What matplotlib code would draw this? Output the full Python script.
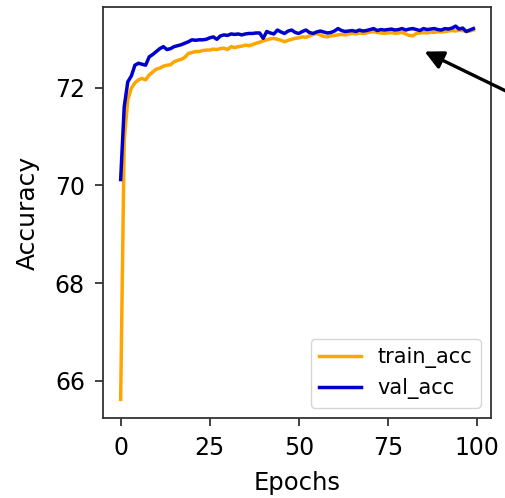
import numpy as np
import matplotlib
matplotlib.use("Agg")
import matplotlib.pyplot as plt

# per-epoch accuracy (%)
train_acc = [
    65.62, 70.93, 71.75, 71.99, 72.10, 72.16, 72.19, 72.16, 72.26, 72.32,
    72.38, 72.40, 72.44, 72.46, 72.47, 72.53, 72.56, 72.58, 72.62, 72.70,
    72.72, 72.74, 72.74, 72.76, 72.77, 72.77, 72.79, 72.78, 72.80, 72.81,
    72.78, 72.84, 72.82, 72.84, 72.85, 72.87, 72.86, 72.88, 72.91, 72.93,
    72.96, 72.98, 73.00, 73.01, 72.99, 72.97, 72.94, 72.97, 72.99, 73.01,
    73.02, 73.04, 73.03, 73.06, 73.09, 73.11, 73.08, 73.05, 73.04, 73.06,
    73.07, 73.08, 73.09, 73.08, 73.10, 73.11, 73.10, 73.12, 73.11, 73.12,
    73.14, 73.15, 73.13, 73.12, 73.11, 73.12, 73.13, 73.11, 73.12, 73.13,
    73.10, 73.07, 73.06, 73.11, 73.12, 73.13, 73.12, 73.14, 73.13, 73.15,
    73.14, 73.15, 73.16, 73.17, 73.16, 73.18, 73.17, 73.15, 73.16, 73.18,
]
val_acc = [
    70.12, 71.61, 72.12, 72.24, 72.46, 72.50, 72.48, 72.46, 72.63, 72.68,
    72.74, 72.80, 72.84, 72.78, 72.80, 72.84, 72.86, 72.88, 72.91, 72.94,
    72.98, 72.97, 72.98, 72.98, 72.99, 73.02, 73.04, 72.99, 73.06, 73.08,
    73.07, 73.10, 73.09, 73.10, 73.08, 73.10, 73.11, 73.11, 73.12, 73.12,
    73.01, 73.15, 73.12, 73.10, 73.18, 73.14, 73.11, 73.16, 73.18, 73.13,
    73.11, 73.15, 73.18, 73.13, 73.11, 73.14, 73.16, 73.14, 73.12, 73.13,
    73.16, 73.21, 73.17, 73.15, 73.16, 73.17, 73.15, 73.18, 73.16, 73.17,
    73.19, 73.21, 73.17, 73.19, 73.18, 73.19, 73.20, 73.18, 73.19, 73.21,
    73.18, 73.20, 73.21, 73.19, 73.17, 73.21, 73.19, 73.20, 73.21, 73.19,
    73.18, 73.21, 73.20, 73.22, 73.26, 73.20, 73.22, 73.15, 73.18, 73.21,
]
epochs = np.arange(len(train_acc))

fig = plt.figure(figsize=(5.06, 4.98), dpi=100)
ax = fig.add_axes([0.2036, 0.1606, 0.7668, 0.8244])

ax.plot(epochs, train_acc, color="orange", lw=2.5, label="train_acc")
ax.plot(epochs, val_acc, color="mediumblue", lw=2.5, label="val_acc")

ax.set_xticks([0, 25, 50, 75, 100])
ax.set_yticks([66, 68, 70, 72])
ax.tick_params(labelsize=17, length=6, width=1.3, pad=7, color="#333333")
for s in ax.spines.values():
    s.set_linewidth(1.3)
    s.set_color("#333333")

ax.set_xlabel("Epochs", fontsize=17.5, labelpad=8)
ax.set_ylabel("Accuracy", fontsize=18, labelpad=11)
ax.legend(loc="lower right", fontsize=15)

# arrow pointing at the converged region
ax.annotate("", xy=(85.3, 72.74), xytext=(545, 388), textcoords="figure pixels",
            arrowprops=dict(arrowstyle="-|>", color="black", lw=2.4,
                            mutation_scale=28, shrinkA=0, shrinkB=0),
            annotation_clip=False)

fig.savefig("out.png", dpi=100)
